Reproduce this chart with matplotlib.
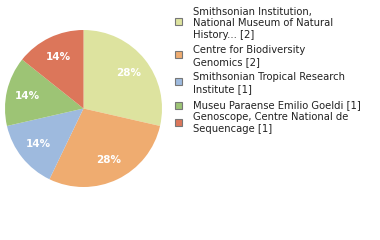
import matplotlib
matplotlib.use("Agg")
import matplotlib.pyplot as plt
from matplotlib.patches import Rectangle

labels = ["Smithsonian Institution,\nNational Museum of Natural\nHistory... [2]",
          "Centre for Biodiversity\nGenomics [2]",
          "Smithsonian Tropical Research\nInstitute [1]",
          "Museu Paraense Emilio Goeldi [1]",
          "Genoscope, Centre National de\nSequencage [1]"]
values = [2, 2, 1, 1, 1]
pct_labels = ["28%", "28%", "14%", "14%", "14%"]
colors = ["#dde39f", "#efac70", "#9ebade", "#9dc475", "#dc765a"]

W, H = 380, 240
fig = plt.figure(figsize=(W / 100, H / 100), dpi=100)
ax = fig.add_axes([5 / W, 1 - 187 / H, 157 / W, 157 / H])
wedges, texts = ax.pie(values, colors=colors, startangle=90, counterclock=False,
                       labels=pct_labels, labeldistance=0.73,
                       wedgeprops=dict(linewidth=0),
                       textprops=dict(color="white", fontsize=7.5, fontweight="semibold",
                                      ha="center", va="center"))
ax.set_xlim(-1, 1)
ax.set_ylim(-1, 1)
ax.set_aspect("equal")
ax.axis("off")

block_y = [23.5, 56, 83, 105, 123]
sq_y = [21, 54, 81, 105, 122]
for lab, col, by, sy in zip(labels, colors, block_y, sq_y):
    fig.patches.append(Rectangle((174.5 / W, 1 - (sy + 3.5) / H), 7 / W, 7 / H,
                                 transform=fig.transFigure, facecolor=col,
                                 edgecolor="#777777", linewidth=0.8))
    fig.text(193 / W, 1 - by / H, lab, fontsize=7.2, color="#222222",
             ha="left", va="center", linespacing=1.17)

fig.savefig("out.png", dpi=100)
